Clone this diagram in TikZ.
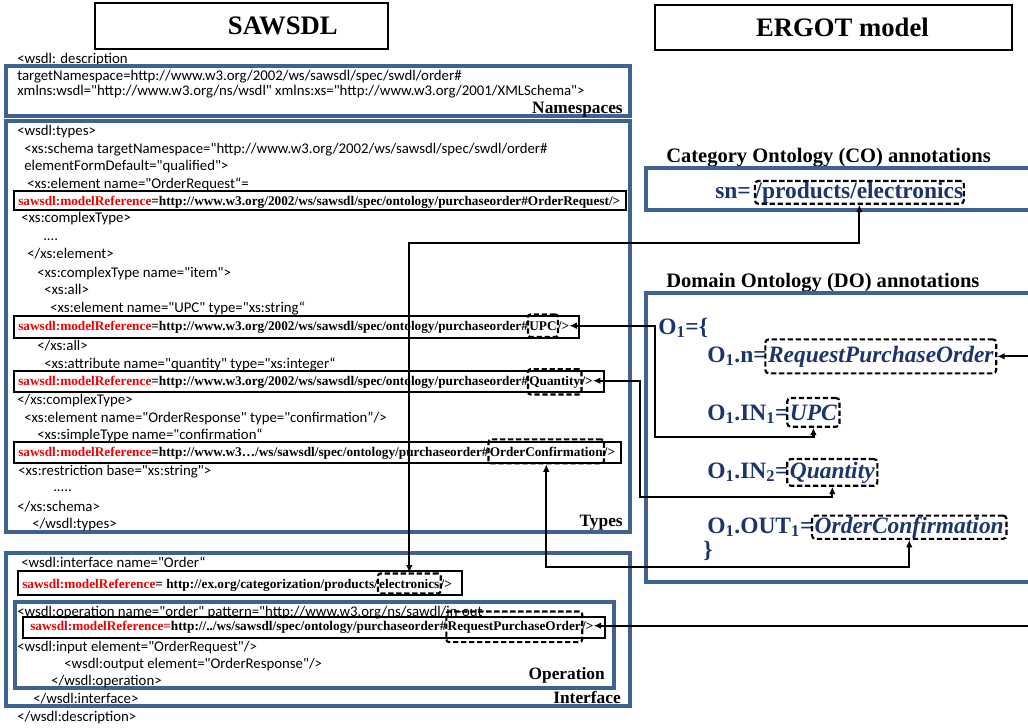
\documentclass[tikz,border=0pt]{standalone}
\usepackage{fontspec}
\setmainfont{Liberation Serif}
\newfontfamily\calfont{Carlito}
\usetikzlibrary{arrows.meta,calc}
\definecolor{frameblue}{RGB}{62,98,148}
\definecolor{navy}{RGB}{28,52,110}
\definecolor{refred}{RGB}{240,0,0}
\newcommand\mycode{\calfont\fontsize{11.1pt}{13pt}\selectfont}
\newcommand\myref{\bfseries\fontsize{9.95pt}{12pt}\selectfont}
\newcommand\mybig{\bfseries\fontsize{17.6pt}{20pt}\selectfont}
\newcommand\rd[1]{\textcolor{refred}{#1}}
\begin{document}
\begin{tikzpicture}[x=0.75pt,y=-0.75pt,
  code/.style={anchor=base west, inner sep=0pt, font=\mycode},
  refl/.style={anchor=base west, inner sep=0pt, font=\myref},
  lab/.style={anchor=base east, inner sep=0pt, font=\bfseries\fontsize{13pt}{15pt}\selectfont},
  head/.style={anchor=base west, inner sep=0pt, font=\bfseries\fontsize{15.4pt}{18pt}\selectfont},
  big/.style={anchor=base west, inner sep=0pt, font=\mybig, text=navy},
  titlebox/.style={draw, line width=2.1pt, inner sep=0pt, font=\bfseries\fontsize{20pt}{24pt}\selectfont},
  blueframe/.style={draw=frameblue, line width=2.5pt},
  thinframe/.style={draw=black, line width=0.9pt},
  dboxL/.style={draw, line width=1.6pt, dash pattern=on 4pt off 2pt, rounded corners=2pt, inner xsep=1pt, inner ysep=0pt, anchor=base west, font=\myref},
  dboxR/.style={draw, line width=1.6pt, dash pattern=on 4pt off 2pt, rounded corners=2.5pt, inner xsep=2pt, inner ysep=0pt, anchor=base west, font=\mybig, text=navy},
  conn/.style={line width=1.7pt, {Latex[length=5.5pt,width=5pt]}-{Latex[length=5.5pt,width=5pt]}},
  connL/.style={line width=1.7pt, {Latex[length=5.5pt,width=5pt]}-},
]
\useasboundingbox (0,0) rectangle (1028,728);

% titles
\node[titlebox, minimum width=219.75pt, minimum height=34.5pt] (tS) at (241.5,26) {\hspace*{62pt}SAWSDL};
\node[titlebox, minimum width=267.75pt, minimum height=33.75pt] (tE) at (833.5,27.5) {\hspace*{13.5pt}ERGOT model};

% ---------- SAWSDL side ----------
\node[code] (c0) at (17,63) {<wsdl: description};
\draw[blueframe] (6,66) rectangle (630,116);
\node[code] (c1) at (17,80) {targetNamespace=http://www.w3.org/2002/ws/sawsdl/spec/swdl/order\#};
\node[code] (c2) at (17,95.5) {xmlns:wsdl="http://www.w3.org/ns/wsdl" xmlns:xs="http://www.w3.org/2001/XMLSchema">};
\node[lab] (ns) at (623,113) {Namespaces};

\draw[blueframe] (6,121) rectangle (630,532);
\node[code] at (17,135) {<wsdl:types>};
\node[code] at (24,153) {<xs:schema targetNamespace="http://www.w3.org/2002/ws/sawsdl/spec/swdl/order\#};
\node[code] at (24,170) {elementFormDefault="qualified">};
\node[code] at (27,188) {<xs:element name="OrderRequest“=};
\draw[thinframe] (14,191) rectangle (626,210);
\node[refl] (l1) at (18,205) {\rd{sawsdl:modelReference}=http://www.w3.org/2002/ws/sawsdl/spec/ontology/purchaseorder\#OrderRequest/>};
\node[code] at (21,222) {<xs:complexType>};
\node[code] at (43,240) {....};
\node[code] at (27,258) {</xs:element>};
\node[code] at (37,277) {<xs:complexType name="item">};
\node[code] at (44,294) {<xs:all>};
\node[code] at (50,312) {<xs:element name="UPC" type="xs:string“};
\draw[thinframe] (14,316) rectangle (579,338);
\node[refl] (l2) at (18,330) {\rd{sawsdl:modelReference}=http://www.w3.org/2002/ws/sawsdl/spec/ontology/purchaseorder\#};
\node[dboxL, minimum height=17pt] (upcL) at ([xshift=-1pt]l2.base east) {UPC};
\node[refl] (upcEnd) at ([xshift=-1pt]upcL.base east) {/>};
\node[code] at (37,350) {</xs:all>};
\node[code] at (44,368) {<xs:attribute name="quantity" type="xs:integer“};
\draw[thinframe] (14,371) rectangle (604,392);
\node[refl] (l3) at (18,385) {\rd{sawsdl:modelReference}=http://www.w3.org/2002/ws/sawsdl/spec/ontology/purchaseorder\#};
\node[dboxL, minimum height=19pt] (qL) at ([xshift=-1pt]l3.base east) {Quantity};
\node[refl] (qEnd) at ([xshift=-1pt]qL.base east) {/>};
\node[code] at (17,404) {</xs:complexType>};
\node[code] at (24,422) {<xs:element name="OrderResponse" type="confirmation”/>};
\node[code] at (37,439) {<xs:simpleType name="confirmation“};
\draw[thinframe] (14,442) rectangle (621,463);
\node[refl] (l4) at (18,456) {\rd{sawsdl:modelReference}=http://www.w3…/ws/sawsdl/spec/ontology/purchaseorder\#};
\node[dboxL, minimum height=18pt] (ocL) at ([xshift=-1pt]l4.base east) {OrderConfirmation};
\node[refl] (ocEnd) at ([xshift=-1pt]ocL.base east) {/>};
\node[code] at (18,475) {<xs:restriction base="xs:string">};
\node[code] at (53,491) {.....};
\node[code] at (17,511) {</xs:schema>};
\node[code] at (32,528) {</wsdl:types>};
\node[lab] (ty) at (623,526) {Types};

% interface
\draw[blueframe] (6,553) rectangle (630,706);
\node[code] at (21,567) {<wsdl:interface name="Order“};
\draw[thinframe] (18,571) rectangle (462,595);
\node[refl] (l5) at (22,588) {\rd{sawsdl:modelReference}= http://ex.org/categorization/products/};
\node[dboxL, minimum height=15pt] (elL) at ([xshift=-1pt]l5.base east) {electronics};
\node[refl] (elEnd) at ([xshift=-1pt]elL.base east) {/>};
\draw[blueframe] (15,602) rectangle (614,688);
\node[code] at (17,616) {<wsdl:operation name="order" pattern="http://www.w3.org/ns/sawdl/in-out};
\draw[thinframe] (23,617) rectangle (605,638);
\node[refl] (l6) at (30,630) {\rd{sawsdl:modelReference=}http://../ws/sawsdl/spec/ontology/purchaseorder\#};
\node[dboxL, minimum height=23pt] (rpoL) at ([xshift=-1pt]l6.base east) {RequestPurchaseOrder};
\node[refl] (rpoEnd) at ([xshift=-1pt]rpoL.base east) {/>};
\node[code] at (17,651) {<wsdl:input element="OrderRequest"/>};
\node[code] at (64,668) {<wsdl:output element="OrderResponse"/>};
\node[code] at (51,685) {</wsdl:operation>};
\node[lab] (op) at (605,679) {Operation};
\node[code] at (33,703) {</wsdl:interface>};
\node[lab] (itf) at (621,703) {Interface};
\node[code] at (17,721) {</wsdl:description>};

% ---------- ERGOT side ----------
\node[head] (coh) at (666,162) {Category Ontology (CO) annotations};
\draw[blueframe] (1030,168) -- (646,168) -- (646,210) -- (1030,210);
\node[big] (sn) at (715,198) {sn=};
\node[dboxR, minimum height=17pt, inner xsep=0.5pt] (coEl) at ([xshift=2pt]sn.base east) {/products/electronics};

\node[head] (doh) at (666,287) {Domain Ontology (DO) annotations};
\draw[blueframe] (1030,293) -- (646,293) -- (646,582) -- (1030,582);
\node[big] (o1) at (658,334) {O\textsubscript{1}=\{};
\node[big] (n1) at (707,362) {O\textsubscript{1}.n=};
\node[dboxR, minimum height=25.5pt] (rpoR) at ([xshift=-2pt]n1.base east) {\itshape RequestPurchaseOrder};
\node[big] (in1) at (707,420) {O\textsubscript{1}.IN\textsubscript{1}=};
\node[dboxR, minimum height=21.5pt] (upcR) at ([xshift=-2pt]in1.base east) {\itshape UPC};
\node[big] (in2) at (707,478) {O\textsubscript{1}.IN\textsubscript{2}=};
\node[dboxR, minimum height=20pt] (qR) at ([xshift=-2pt]in2.base east) {\itshape Quantity};
\node[big] (out1) at (707,533) {O\textsubscript{1}.OUT\textsubscript{1}=};
\node[dboxR, minimum height=17.5pt] (ocR) at ([xshift=-2pt]out1.base east) {\itshape OrderConfirmation};
\node[big] (cl) at (703,557) {\}};

% ---------- connectors ----------
\coordinate (eY) at (0,243);
\draw[conn] (elL.north) -- (elL.north |- eY) -| (coEl.south);
\coordinate (uJ) at (655,437);
\draw[conn] (upcEnd.east) -| (uJ) -| (upcR.south);
\coordinate (qJ) at (640,497);
\draw[conn] (qEnd.east) -| (qJ) -| (qR.south);
\coordinate (oY) at (0,567);
\draw[conn] (ocL.south) -- (ocL.south |- oY) -| (ocR.south);
\coordinate (rX) at (1028,0);
\draw[connL] (rpoEnd.east) -- (rpoEnd.east -| rX);
\draw[connL] (rpoR.east) -- (rpoR.east -| rX);
\end{tikzpicture}
\end{document}
